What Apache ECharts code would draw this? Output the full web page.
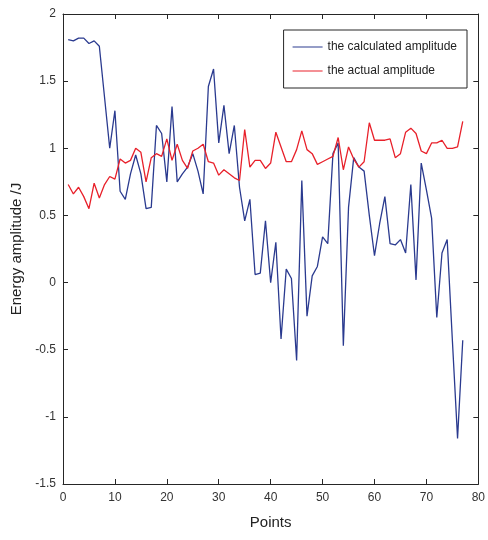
<!DOCTYPE html>
<html>
<head>
<meta charset="utf-8">
<script src="https://cdn.jsdelivr.net/npm/echarts@6/dist/echarts.min.js"></script>
<style>
html,body{margin:0;padding:0;background:#fff;}
#chart{width:488px;height:540px;}
</style>
</head>
<body>
<div id="chart"></div>
<script>
var points = [];
for (var i = 1; i <= 77; i++) points.push(i);

var calculated = [1.81,1.80,1.82,1.82,1.78,1.80,1.76,1.38,1.00,1.28,
  0.68,0.62,0.81,0.95,0.81,0.55,0.56,1.17,1.11,0.75,
  1.31,0.75,0.81,0.86,0.96,0.83,0.66,1.46,1.59,1.04,
  1.32,0.96,1.17,0.71,0.46,0.62,0.06,0.07,0.46,0.00,
  0.30,-0.42,0.10,0.03,-0.58,0.76,-0.25,0.05,0.12,0.34,
  0.29,0.96,1.04,-0.47,0.56,0.93,0.86,0.83,0.50,0.20,
  0.44,0.64,0.29,0.28,0.32,0.22,0.73,0.02,0.89,0.69,
  0.48,-0.26,0.22,0.32,-0.43,-1.16,-0.43];

var actual = [0.73,0.66,0.71,0.64,0.55,0.74,0.63,0.73,0.79,0.77,
  0.92,0.89,0.91,1.00,0.97,0.75,0.93,0.96,0.94,1.07,
  0.91,1.03,0.91,0.85,0.98,1.00,1.03,0.90,0.89,0.80,
  0.84,0.81,0.78,0.76,1.14,0.86,0.91,0.91,0.85,0.89,
  1.12,1.01,0.90,0.90,0.99,1.13,0.99,0.96,0.88,0.90,
  0.92,0.94,1.08,0.84,1.01,0.92,0.86,0.90,1.19,1.06,
  1.06,1.06,1.07,0.93,0.96,1.12,1.15,1.11,0.98,0.96,
  1.04,1.04,1.06,1.00,1.00,1.01,1.20];

var xTicks = [0,10,20,30,40,50,60,70,80];
var yTicks = [-1.5,-1,-0.5,0,0.5,1,1.5,2];
var seriesNames = ['the calculated amplitude','the actual amplitude'];

function pairs(vals){ return points.map(function(p,i){ return [p, vals[i]]; }); }

var axisColor = '#262626';
var chart = echarts.init(document.getElementById('chart'), null, {renderer:'canvas'});
var font = 'Liberation Sans, Arial, sans-serif';
chart.setOption({
  animation:false,
  backgroundColor:'#fff',
  textStyle:{fontFamily:font},
  grid:{left:63, top:14, width:419, height:470, containLabel:false},
  legend:{
    orient:'vertical', right:21, top:30,
    data:seriesNames,
    itemWidth:30, itemHeight:10, itemGap:12,
    icon:'path://M0,5L30,5L30,6L0,6Z',
    borderColor:'#262626', borderWidth:1, borderRadius:0,
    padding:[11,10,11,9],
    backgroundColor:'#fff',
    textStyle:{fontSize:12, color:'#222', fontFamily:font}
  },
  xAxis:[{
    type:'value', min:xTicks[0], max:xTicks[xTicks.length-1], interval:10,
    name:'Points', nameLocation:'middle', nameGap:31,
    nameTextStyle:{fontSize:15, color:'#222'},
    axisLine:{onZero:false, lineStyle:{color:axisColor, width:1}},
    axisTick:{inside:true, length:5, lineStyle:{color:axisColor}},
    axisLabel:{fontSize:12, color:'#333', margin:8},
    splitLine:{show:false}
  },{
    type:'value', position:'top', min:xTicks[0], max:xTicks[xTicks.length-1], interval:10,
    axisLine:{show:true, onZero:false, lineStyle:{color:axisColor, width:1}},
    axisTick:{show:true, inside:true, length:5, lineStyle:{color:axisColor}},
    axisLabel:{show:false}, splitLine:{show:false}
  }],
  yAxis:[{
    type:'value', min:yTicks[0], max:yTicks[yTicks.length-1], interval:0.5,
    name:'Energy amplitude /J', nameLocation:'middle', nameGap:27,
    nameTextStyle:{fontSize:15, color:'#222'},
    axisLine:{show:true, onZero:false, lineStyle:{color:axisColor, width:1}},
    axisTick:{show:true, inside:true, length:5, lineStyle:{color:axisColor}},
    axisLabel:{fontSize:12, color:'#333', margin:7},
    splitLine:{show:false}
  },{
    type:'value', position:'right', min:yTicks[0], max:yTicks[yTicks.length-1], interval:0.5,
    axisLine:{show:true, onZero:false, lineStyle:{color:axisColor, width:1}},
    axisTick:{show:true, inside:true, length:5, lineStyle:{color:axisColor}},
    axisLabel:{show:false}, splitLine:{show:false}
  }],
  series:[{
    name:seriesNames[0], type:'line', data:pairs(calculated),
    showSymbol:false, symbol:'none',
    lineStyle:{color:'#2a3a8f', width:1.3}, itemStyle:{color:'#2a3a8f'}, z:2
  },{
    name:seriesNames[1], type:'line', data:pairs(actual),
    showSymbol:false, symbol:'none',
    lineStyle:{color:'#e8202a', width:1.3}, itemStyle:{color:'#e8202a'}, z:3
  }]
});
</script>
</body>
</html>
